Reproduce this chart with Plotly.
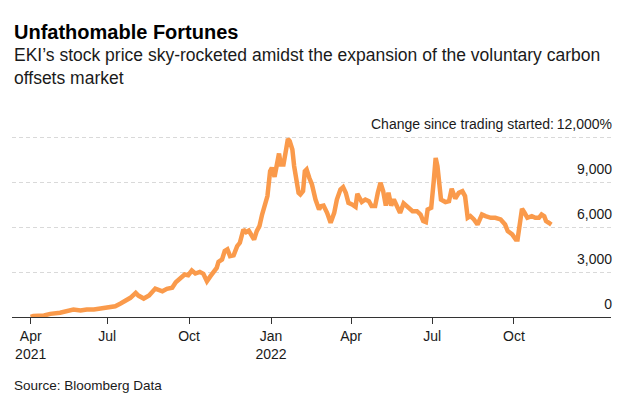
import plotly.graph_objects as go

# Data: change since trading started (%)
dates = [
    "2021-04-06", "2021-04-09", "2021-04-21", "2021-04-28", "2021-05-09", "2021-05-21",
    "2021-05-24", "2021-06-01", "2021-06-08", "2021-06-16", "2021-06-23", "2021-07-01",
    "2021-07-06", "2021-07-10", "2021-07-16", "2021-07-21", "2021-07-27", "2021-08-02",
    "2021-08-05", "2021-08-11", "2021-08-17", "2021-08-24", "2021-08-28", "2021-09-01",
    "2021-09-06", "2021-09-12", "2021-09-16", "2021-09-21", "2021-09-26", "2021-09-30",
    "2021-10-04", "2021-10-08", "2021-10-13", "2021-10-17", "2021-10-21", "2021-10-25",
    "2021-10-29", "2021-11-01", "2021-11-03", "2021-11-07", "2021-11-10", "2021-11-13",
    "2021-11-16", "2021-11-20", "2021-11-24", "2021-11-27", "2021-12-01", "2021-12-04",
    "2021-12-07", "2021-12-10", "2021-12-13", "2021-12-16", "2021-12-19", "2021-12-22",
    "2021-12-25", "2021-12-28", "2021-12-31", "2022-01-02", "2022-01-05", "2022-01-07",
    "2022-01-10", "2022-01-12", "2022-01-15", "2022-01-18", "2022-01-20", "2022-01-22",
    "2022-01-25", "2022-01-27", "2022-01-30", "2022-02-01", "2022-02-03", "2022-02-06",
    "2022-02-08", "2022-02-10", "2022-02-13", "2022-02-16", "2022-02-20", "2022-02-24",
    "2022-02-26", "2022-03-01", "2022-03-05", "2022-03-09", "2022-03-13", "2022-03-16",
    "2022-03-20", "2022-03-23", "2022-03-26", "2022-03-29", "2022-04-02", "2022-04-06",
    "2022-04-08", "2022-04-11", "2022-04-13", "2022-04-17", "2022-04-21", "2022-04-24",
    "2022-04-28", "2022-05-01", "2022-05-04", "2022-05-07", "2022-05-10", "2022-05-13",
    "2022-05-16", "2022-05-19", "2022-05-23", "2022-05-26", "2022-05-30", "2022-06-04",
    "2022-06-09", "2022-06-14", "2022-06-18", "2022-06-21", "2022-06-24", "2022-06-26",
    "2022-06-30", "2022-07-03", "2022-07-05", "2022-07-07", "2022-07-09", "2022-07-11",
    "2022-07-16", "2022-07-20", "2022-07-23", "2022-07-25", "2022-07-27", "2022-07-31",
    "2022-08-04", "2022-08-07", "2022-08-08", "2022-08-10", "2022-08-13", "2022-08-17",
    "2022-08-21", "2022-08-24", "2022-08-26", "2022-08-30", "2022-09-05", "2022-09-10",
    "2022-09-16", "2022-09-21", "2022-09-24", "2022-09-29", "2022-10-03", "2022-10-05",
    "2022-10-08", "2022-10-10", "2022-10-13", "2022-10-16", "2022-10-21", "2022-10-25",
    "2022-10-29", "2022-11-01", "2022-11-04", "2022-11-06", "2022-11-09", "2022-11-12",
]
change_pct = [
    0, 60, 100, 210, 280, 430,
    500, 430, 500, 500, 570, 610,
    660, 720, 900, 1060, 1280, 1610,
    1430, 1230, 1430, 1900, 1840, 1720,
    1880, 1950, 2320, 2610, 2840, 2790,
    3100, 2900, 3010, 2880, 2390, 2730,
    3060, 3280, 3680, 3840, 4400, 4510,
    4060, 4110, 4730, 4950, 5840, 5660,
    5770, 5440, 5170, 5730, 6060, 6840,
    7620, 8070, 9730, 9960, 9360, 10180,
    10910, 10180, 10180, 11180, 11890, 11740,
    11180, 10070, 9180, 8290, 8180, 8400,
    9730, 9850, 9290, 8840, 7840, 7180,
    7400, 7440, 6950, 6290, 6950, 7840,
    8510, 8670, 8290, 7620, 7510, 7350,
    8220, 7950, 7670, 7840, 7730, 7400,
    7400, 8290, 8960, 8400, 7440, 8290,
    7440, 7840, 7400, 6950, 7580, 7290,
    7060, 7060, 6840, 6400, 6330, 7180,
    7290, 9180, 10620, 10070, 8730, 7840,
    7670, 7730, 8560, 8180, 7910, 8290,
    8400, 8070, 7290, 6620, 6730, 6510,
    6170, 6620, 6840, 6730, 6620, 6620,
    6510, 6170, 5730, 5510, 5170, 5170,
    6290, 7220, 6950, 6620, 6730, 6620,
    6620, 6840, 6730, 6400, 6290, 6170,
]

x_tick_vals = ["2021-04-06", "2021-07-01", "2021-10-01", "2022-01-01",
               "2022-04-01", "2022-07-01", "2022-10-01"]
x_tick_text = ["Apr<br>2021", "Jul", "Oct", "Jan<br>2022", "Apr", "Jul", "Oct"]
y_tick_vals = [0, 3000, 6000, 9000, 12000]
y_tick_text = ["0", "3,000", "6,000", "9,000", "12,000%"]
y_unit_label = "Change since trading started:"

title = "<b>Unfathomable Fortunes</b>"
subtitle = ("EKI’s stock price sky-rocketed amidst the expansion of the voluntary carbon"
            "<br>offsets market")
source = "Source: Bloomberg Data"

FONT = "Liberation Sans, Arial, Helvetica, sans-serif"
TXT = "#1a1a1a"

# page body has an 8px default margin, so the figure is laid out 8px up/left
PLOT_LEFT = 4
PLOT_W = 599
PLOT_BOTTOM = 309
PLOT_H = 202
Y_RANGE = [0, 13480]


def paper_y(px):
    return (PLOT_BOTTOM - (px - 8)) / PLOT_H


def paper_x(px):
    return ((px - 8) - PLOT_LEFT) / PLOT_W


fig = go.Figure()
fig.add_trace(go.Scatter(
    x=dates, y=change_pct, mode="lines",
    line=dict(color="#FA9A4B", width=4.5),
    cliponaxis=False, hoverinfo="skip", showlegend=False,
))

fig.update_layout(
    width=632, height=401,
    margin=dict(l=4, r=29, t=107, b=92),
    paper_bgcolor="white", plot_bgcolor="white",
    font=dict(family=FONT, color=TXT, size=14),
    showlegend=False,
    xaxis=dict(
        type="date",
        range=["2021-03-16", "2023-01-18"],
        tickvals=x_tick_vals, ticktext=x_tick_text,
        showgrid=False, zeroline=False,
        showline=True, linecolor="#333333", linewidth=1,
        ticks="outside", ticklen=6, tickcolor="#333333", tickwidth=1,
        tickfont=dict(size=14, color=TXT, family=FONT),
    ),
    yaxis=dict(
        range=Y_RANGE,
        side="right",
        tickvals=y_tick_vals, ticktext=y_tick_text,
        ticklabelposition="inside",
        ticklabelshift=-13,
        ticklabelstandoff=-4,
        ticks="",
        showgrid=True, gridcolor="#d9d9d9", gridwidth=1, griddash="4px,3px",
        zeroline=False, showline=False,
        tickfont=dict(size=14, color=TXT, family=FONT),
    ),
    annotations=[
        dict(text=title, xref="paper", yref="paper", x=0, y=paper_y(31.7),
             xanchor="left", yanchor="middle", showarrow=False,
             font=dict(size=20, color="#000000", family=FONT)),
        dict(text=subtitle, xref="paper", yref="paper", x=0, y=paper_y(66.7),
             xanchor="left", yanchor="middle", showarrow=False, align="left",
             font=dict(size=17.5, color=TXT, family=FONT)),
        dict(text=source, xref="paper", yref="paper", x=0, y=paper_y(385),
             xanchor="left", yanchor="middle", showarrow=False,
             font=dict(size=13.5, color=TXT, family=FONT)),
        dict(text=y_unit_label, xref="paper", yref="y", x=paper_x(556), y=12000,
             yshift=13, xanchor="right", yanchor="middle", showarrow=False,
             font=dict(size=14, color=TXT, family=FONT)),
    ],
)

fig.write_html("out.html")
